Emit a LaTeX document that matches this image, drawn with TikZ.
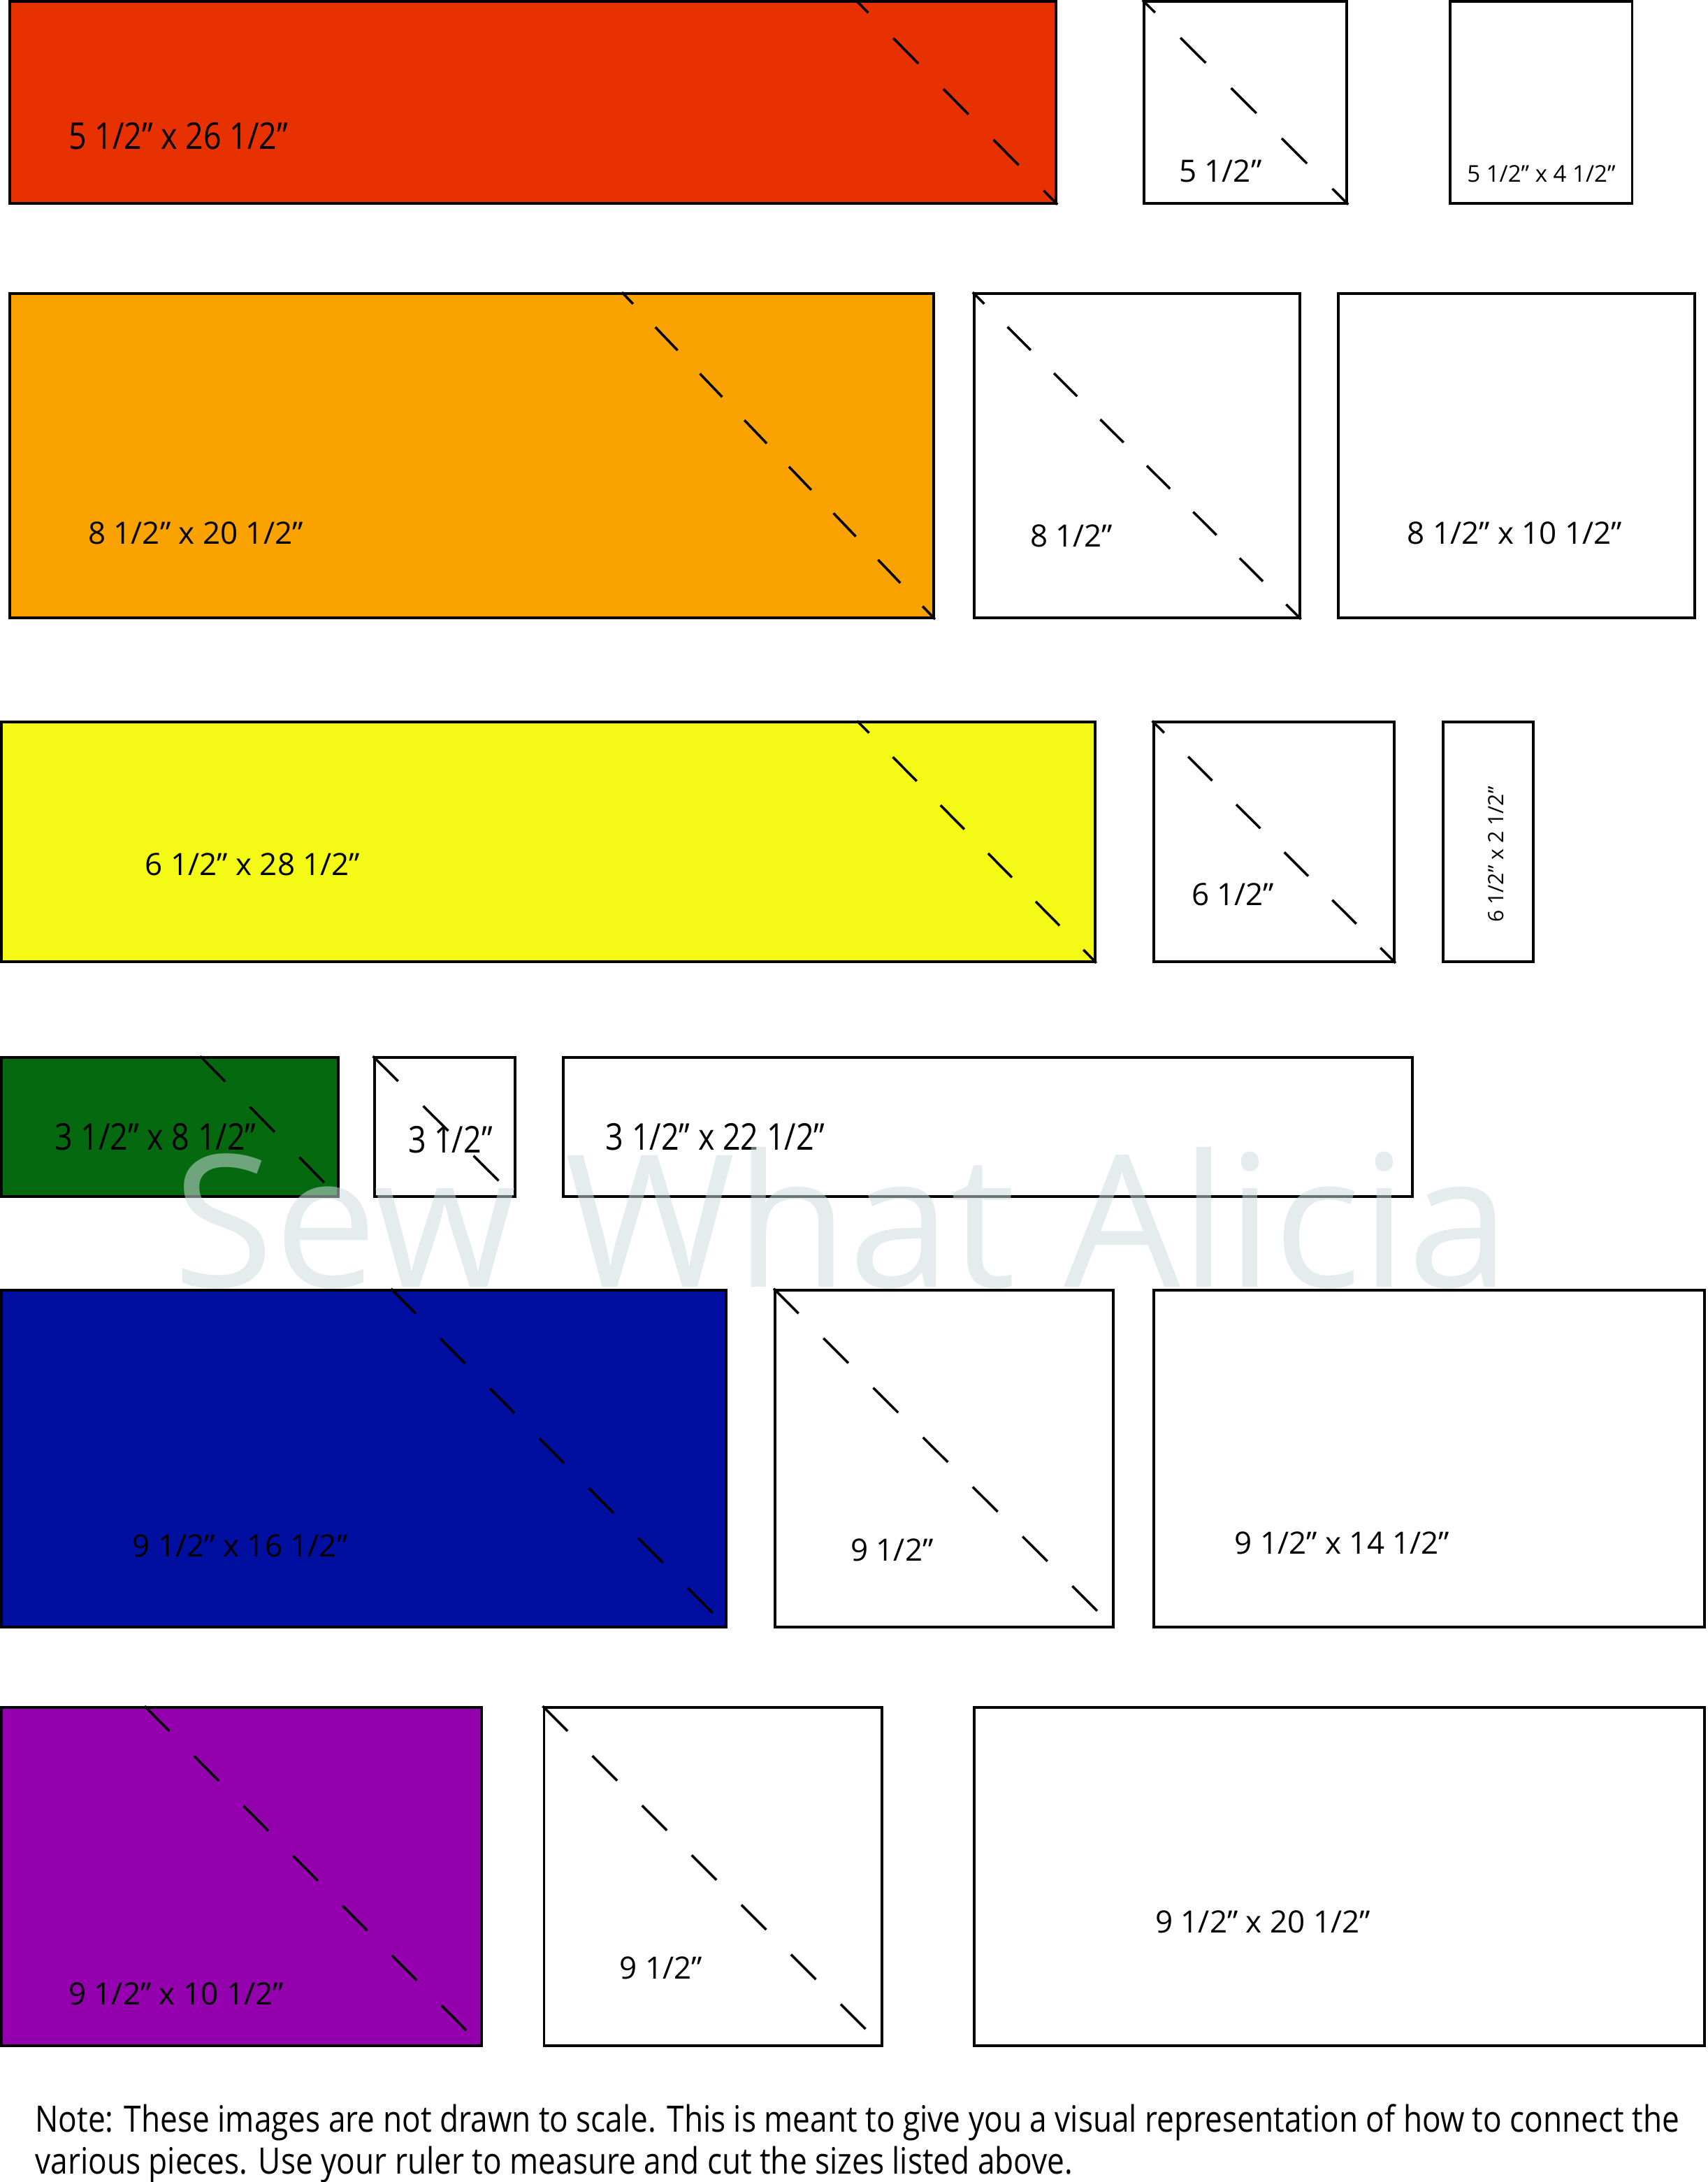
\documentclass[tikz,border=0pt]{standalone}
\usepackage{fontspec}
\setmainfont{Open Sans}
\newfontfamily\narrowfont[FakeStretch=0.85]{Open Sans}
\usetikzlibrary{fit,calc}

\definecolor{stripred}{HTML}{E83100}
\definecolor{striporange}{HTML}{FAA200}
\definecolor{stripyellow}{HTML}{F4FA16}
\definecolor{stripgreen}{HTML}{05690F}
\definecolor{stripblue}{HTML}{000F9F}
\definecolor{strippurple}{HTML}{9400AE}
\definecolor{markgrey}{RGB}{204,219,221}

\begin{document}
\begin{tikzpicture}[x=0.01992cm, y=-0.01992cm,
	piece/.style = {draw, line width=1.1pt, inner sep=0pt},
	cut/.style 2 args = {line width=1pt, dash pattern=on #1 off #1, dash phase=#2},
	dimlabel/.style = {anchor=west, inner sep=0pt, font=\fontsize{12.5}{14}\selectfont},
	narrowlabel/.style = {anchor=west, inner sep=0pt, font=\narrowfont\fontsize{15}{17}\selectfont},
	smalllabel/.style = {inner sep=0pt, font=\fontsize{9.4}{11}\selectfont},
	notetext/.style = {anchor=base west, inner sep=0pt, font=\narrowfont\fontsize{14.8}{17}\selectfont}]
	\useasboundingbox (0,0) rectangle (1227,1568);
	% row 1
	\node[piece, fill=stripred, fit={(7,1) (759,146)}] (strip1) {};
	\node[piece, fit={(822,1) (968,146)}] (square1) {};
	\node[piece, fit={(1042,1) (1173,146)}] (extra1) {};
	% row 2
	\node[piece, fill=striporange, fit={(7,211) (671,444)}] (strip2) {};
	\node[piece, fit={(700,211) (934,444)}] (square2) {};
	\node[piece, fit={(962,211) (1218,444)}] (extra2) {};
	% row 3
	\node[piece, fill=stripyellow, fit={(1,519) (787,691)}] (strip3) {};
	\node[piece, fit={(829,519) (1002,691)}] (square3) {};
	\node[piece, fit={(1037,519) (1102,691)}] (extra3) {};
	% row 4
	\node[piece, fill=stripgreen, fit={(1,760) (243,860)}] (strip4) {};
	\node[piece, fit={(269,760) (370,860)}] (square4) {};
	\node[piece, fit={(405,760) (1015,860)}] (extra4) {};
	% row 5
	\node[piece, fill=stripblue, fit={(1,927) (522,1169)}] (strip5) {};
	\node[piece, fit={(557,927) (800,1169)}] (square5) {};
	\node[piece, fit={(829,927) (1225,1169)}] (extra5) {};
	% row 6
	\node[piece, fill=strippurple, fit={(1,1227) (346,1470)}] (strip6) {};
	\node[piece, fit={(391,1227) (634,1470)}] (square6) {};
	\node[piece, fit={(700,1227) (1225,1470)}] (extra6) {};

	% sewing lines
	\foreach \p/\h/\d/\e in {1/145/14.53/7.27, 2/225/13.11/6.56, 3/172/13.79/6.89,
		4/100/14.4/0, 5/242/14.3/0, 6/243/14.3/0}
		\draw[cut={\d pt}{\e pt}] ($(strip\p.north east)+(-\h,0)$) -- (strip\p.south east);
	\foreach \p/\d/\e in {1/14.53/7.27, 2/13.34/6.67, 3/13.79/6.89,
		4/14.4/0, 5/14.3/0, 6/14.3/0}
		\draw[cut={\d pt}{\e pt}] (square\p.north west) -- (square\p.south east);

	% sizes
	\node[narrowlabel] (lab1) at (49,98) {5 1/2” x 26 1/2”};
	\node[dimlabel] (lab2) at (847,123) {5 1/2”};
	\node[smalllabel, anchor=west] (lab3) at (1054,125) {5 1/2” x 4 1/2”};
	\node[dimlabel] (lab4) at (63,383) {8 1/2” x 20 1/2”};
	\node[dimlabel] (lab5) at (740,385) {8 1/2”};
	\node[dimlabel] (lab6) at (1011,383) {8 1/2” x 10 1/2”};
	\node[dimlabel] (lab7) at (104,621) {6 1/2” x 28 1/2”};
	\node[dimlabel] (lab8) at (856,643) {6 1/2”};
	\node[smalllabel, rotate=90, font=\fontsize{8.6}{10}\selectfont] (lab9) at (1075,614) {6 1/2” x 2 1/2”};
	\node[narrowlabel] (lab10) at (39,817) {3 1/2” x 8 1/2”};
	\node[narrowlabel] (lab11) at (293,819) {3 1/2”};
	\node[narrowlabel] (lab12) at (435,817) {3 1/2” x 22 1/2”};
	\node[dimlabel] (lab13) at (95,1111) {9 1/2” x 16 1/2”};
	\node[dimlabel] (lab14) at (611,1114) {9 1/2”};
	\node[dimlabel] (lab15) at (887,1109) {9 1/2” x 14 1/2”};
	\node[dimlabel] (lab16) at (49,1433) {9 1/2” x 10 1/2”};
	\node[dimlabel] (lab17) at (445,1414) {9 1/2”};
	\node[dimlabel] (lab18) at (830,1381) {9 1/2” x 20 1/2”};

	% watermark
	\node[anchor=base west, inner sep=0pt, text=markgrey, text opacity=0.53,
		font=\fontsize{75}{80}\selectfont] (mark) at (124,925) {Sew What Alicia};

	% note
	\node[notetext] (note1) at (25,1532)
		{Note: These images are not drawn to scale. This is meant to give you a visual representation of how to connect the};
	\node[notetext] (note2) at (25,1562)
		{various pieces. Use your ruler to measure and cut the sizes listed above.};
\end{tikzpicture}
\end{document}
